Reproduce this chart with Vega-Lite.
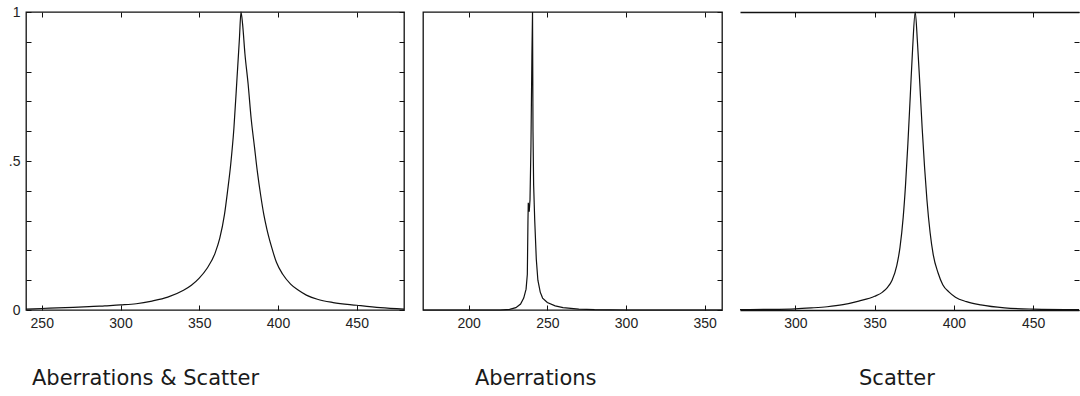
{
  "$schema": "https://vega.github.io/schema/vega-lite/v6.json",
  "background": "white",
  "padding": {"left": 7, "top": 4, "right": 0, "bottom": 0},
  "spacing": 11,
  "datasets": {
    "as": [
      {"w": 240, "v": 0.003}, {"w": 250, "v": 0.005}, {"w": 260, "v": 0.007}, {"w": 270, "v": 0.009},
      {"w": 280, "v": 0.011}, {"w": 290, "v": 0.014}, {"w": 300, "v": 0.017}, {"w": 310, "v": 0.021},
      {"w": 320, "v": 0.03}, {"w": 330, "v": 0.043}, {"w": 340, "v": 0.066}, {"w": 345, "v": 0.083},
      {"w": 350, "v": 0.107}, {"w": 355, "v": 0.14}, {"w": 360, "v": 0.19}, {"w": 363, "v": 0.24},
      {"w": 366, "v": 0.32}, {"w": 368, "v": 0.4}, {"w": 370, "v": 0.49}, {"w": 372, "v": 0.61},
      {"w": 374, "v": 0.78}, {"w": 375.5, "v": 0.91}, {"w": 376.5, "v": 1.0}, {"w": 377.5, "v": 0.96},
      {"w": 379, "v": 0.86}, {"w": 381, "v": 0.76}, {"w": 383, "v": 0.64}, {"w": 385, "v": 0.55},
      {"w": 387, "v": 0.46}, {"w": 389, "v": 0.385}, {"w": 391, "v": 0.32}, {"w": 393, "v": 0.27},
      {"w": 396, "v": 0.21}, {"w": 399, "v": 0.16}, {"w": 403, "v": 0.12}, {"w": 408, "v": 0.087},
      {"w": 413, "v": 0.066}, {"w": 418, "v": 0.05}, {"w": 425, "v": 0.036}, {"w": 435, "v": 0.025},
      {"w": 450, "v": 0.016}, {"w": 465, "v": 0.008}, {"w": 480, "v": 0.003}
    ],
    "ab": [
      {"w": 171, "v": 0}, {"w": 200, "v": 0}, {"w": 220, "v": 0}, {"w": 226, "v": 0.002},
      {"w": 230, "v": 0.008}, {"w": 233, "v": 0.02}, {"w": 235, "v": 0.04}, {"w": 236.5, "v": 0.07},
      {"w": 237.3, "v": 0.12}, {"w": 237.7, "v": 0.3}, {"w": 237.9, "v": 0.36}, {"w": 238.5, "v": 0.33},
      {"w": 239, "v": 0.37}, {"w": 239.6, "v": 0.55}, {"w": 240.2, "v": 0.85}, {"w": 240.6, "v": 1.0},
      {"w": 240.9, "v": 0.6}, {"w": 241.3, "v": 0.42}, {"w": 242, "v": 0.3}, {"w": 243, "v": 0.17},
      {"w": 244, "v": 0.1}, {"w": 245.5, "v": 0.06}, {"w": 247, "v": 0.04}, {"w": 250, "v": 0.025},
      {"w": 255, "v": 0.014}, {"w": 260, "v": 0.008}, {"w": 270, "v": 0.003}, {"w": 280, "v": 0.001},
      {"w": 300, "v": 0}, {"w": 361, "v": 0}
    ],
    "sc": [
      {"w": 265, "v": 0.001}, {"w": 280, "v": 0.002}, {"w": 300, "v": 0.004}, {"w": 310, "v": 0.007},
      {"w": 320, "v": 0.011}, {"w": 330, "v": 0.018}, {"w": 340, "v": 0.03}, {"w": 350, "v": 0.046},
      {"w": 355, "v": 0.06}, {"w": 358, "v": 0.075}, {"w": 361, "v": 0.1}, {"w": 364, "v": 0.15},
      {"w": 366, "v": 0.21}, {"w": 368, "v": 0.31}, {"w": 369.5, "v": 0.42}, {"w": 371, "v": 0.56},
      {"w": 372.5, "v": 0.72}, {"w": 374, "v": 0.88}, {"w": 375.6, "v": 1.0}, {"w": 377, "v": 0.9},
      {"w": 378.5, "v": 0.76}, {"w": 380, "v": 0.61}, {"w": 381.5, "v": 0.48}, {"w": 383, "v": 0.37},
      {"w": 385, "v": 0.26}, {"w": 387, "v": 0.185}, {"w": 390, "v": 0.125}, {"w": 393, "v": 0.085},
      {"w": 397, "v": 0.06}, {"w": 401, "v": 0.043}, {"w": 408, "v": 0.028}, {"w": 417, "v": 0.017},
      {"w": 432, "v": 0.007}, {"w": 450, "v": 0.003}, {"w": 479, "v": 0.001}
    ]
  },
  "hconcat": [
    {
      "width": 378, "height": 298,
      "data": {"name": "as"},
      "view": {"stroke": "#111", "strokeWidth": 1.3},
      "title": {"text": "Aberrations & Scatter", "orient": "bottom", "anchor": "start", "frame": "group", "dx": 6, "offset": 38, "font": "DejaVu Sans", "fontSize": 21, "fontWeight": "normal", "color": "#1a1a1a"},
      "layer": [
        {
          "mark": {"type": "line", "color": "#111", "strokeWidth": 1.2, "interpolate": "monotone"},
          "encoding": {
            "x": {"field": "w", "type": "quantitative", "scale": {"domain": [240, 480], "nice": false, "zero": false},
                  "axis": {"orient": "bottom", "title": null, "values": [250, 300, 350, 400, 450], "labelPadding": 11}},
            "y": {"field": "v", "type": "quantitative", "scale": {"domain": [0, 1], "nice": false},
                  "axis": {"orient": "left", "title": null, "values": [0, 0.1, 0.2, 0.3, 0.4, 0.5, 0.6, 0.7, 0.8, 0.9, 1],
                           "labelExpr": "datum.value == 1 ? '1' : datum.value == 0.5 ? '.5' : datum.value == 0 ? '0' : ''",
                           "labelOverlap": false, "labelPadding": 11}}
          }
        },
        {
          "mark": {"type": "line", "strokeOpacity": 0},
          "encoding": {
            "x": {"field": "w", "type": "quantitative", "scale": {"domain": [240, 480], "nice": false, "zero": false},
                  "axis": {"orient": "top", "title": null, "values": [250, 300, 350, 400, 450], "labels": false}},
            "y": {"field": "v", "type": "quantitative", "scale": {"domain": [0, 1], "nice": false},
                  "axis": {"orient": "right", "title": null, "values": [0, 0.1, 0.2, 0.3, 0.4, 0.5, 0.6, 0.7, 0.8, 0.9, 1], "labels": false}}
          }
        }
      ],
      "resolve": {"axis": {"x": "independent", "y": "independent"}}
    },
    {
      "width": 299, "height": 298,
      "data": {"name": "ab"},
      "view": {"stroke": "#111", "strokeWidth": 1.3},
      "title": {"text": "Aberrations", "orient": "bottom", "anchor": "start", "frame": "group", "dx": 52, "offset": 38, "font": "DejaVu Sans", "fontSize": 21, "fontWeight": "normal", "color": "#1a1a1a"},
      "layer": [
        {
          "mark": {"type": "line", "color": "#111", "strokeWidth": 1.2},
          "encoding": {
            "x": {"field": "w", "type": "quantitative", "scale": {"domain": [171, 361], "nice": false, "zero": false},
                  "axis": {"orient": "bottom", "title": null, "values": [200, 250, 300, 350], "labelPadding": 11}},
            "y": {"field": "v", "type": "quantitative", "scale": {"domain": [0, 1], "nice": false}, "axis": null}
          }
        },
        {
          "mark": {"type": "line", "strokeOpacity": 0},
          "encoding": {
            "x": {"field": "w", "type": "quantitative", "scale": {"domain": [171, 361], "nice": false, "zero": false},
                  "axis": {"orient": "top", "title": null, "values": [200, 250, 300, 350], "labels": false}},
            "y": {"field": "v", "type": "quantitative", "scale": {"domain": [0, 1], "nice": false},
                  "axis": {"orient": "right", "title": null, "values": [0, 0.1, 0.2, 0.3, 0.4, 0.5, 0.6, 0.7, 0.8, 0.9, 1], "labels": false}}
          }
        }
      ],
      "resolve": {"axis": {"x": "independent", "y": "independent"}}
    },
    {
      "width": 339, "height": 298,
      "data": {"name": "sc"},
      "view": {"stroke": null},
      "title": {"text": "Scatter", "orient": "bottom", "anchor": "start", "frame": "group", "dx": 119, "offset": 38, "font": "DejaVu Sans", "fontSize": 21, "fontWeight": "normal", "color": "#1a1a1a"},
      "layer": [
        {
          "mark": {"type": "line", "color": "#111", "strokeWidth": 1.2, "interpolate": "monotone"},
          "encoding": {
            "x": {"field": "w", "type": "quantitative", "scale": {"domain": [265, 479], "nice": false, "zero": false},
                  "axis": {"orient": "bottom", "title": null, "values": [300, 350, 400, 450], "labelPadding": 11, "domain": true}},
            "y": {"field": "v", "type": "quantitative", "scale": {"domain": [0, 1], "nice": false}, "axis": null}
          }
        },
        {
          "mark": {"type": "line", "strokeOpacity": 0},
          "encoding": {
            "x": {"field": "w", "type": "quantitative", "scale": {"domain": [265, 479], "nice": false, "zero": false},
                  "axis": {"orient": "top", "title": null, "values": [300, 350, 400, 450], "labels": false, "domain": true}},
            "y": {"field": "v", "type": "quantitative", "scale": {"domain": [0, 1], "nice": false},
                  "axis": {"orient": "right", "title": null, "values": [0, 0.1, 0.2, 0.3, 0.4, 0.5, 0.6, 0.7, 0.8, 0.9, 1], "labels": false}}
          }
        }
      ],
      "resolve": {"axis": {"x": "independent", "y": "independent"}}
    }
  ],
  "config": {
    "axis": {
      "grid": false,
      "domain": false,
      "domainColor": "#111",
      "domainWidth": 1.3,
      "tickColor": "#111",
      "tickWidth": 1,
      "tickSize": -5,
      "labelFont": "Liberation Sans",
      "labelFontSize": 14,
      "labelColor": "#222",
      "labelFlush": false
    }
  }
}
